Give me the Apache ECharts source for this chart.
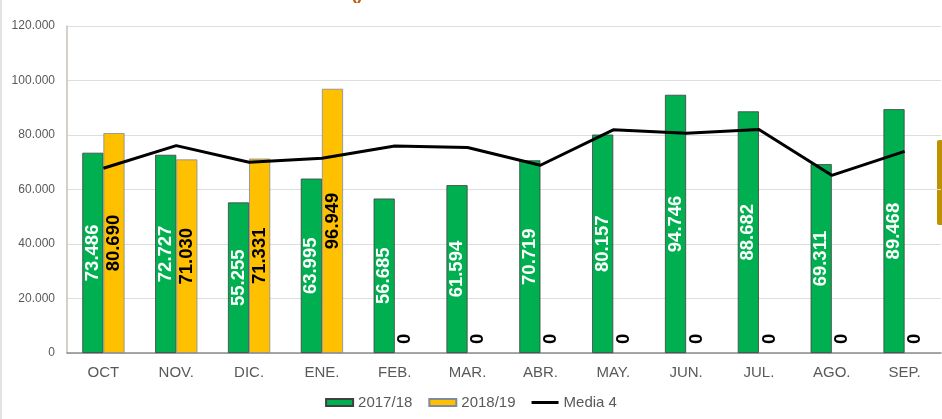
<!DOCTYPE html>
<html>
<head>
<meta charset="utf-8">
<script src="https://cdn.jsdelivr.net/npm/echarts@6/dist/echarts.min.js"></script>
<style>
  html, body { margin: 0; padding: 0; background: #fff; }
  #chart { width: 942px; height: 419px; }
</style>
</head>
<body>
<div id="chart"></div>
<script>
const months = ["OCT", "NOV.", "DIC.", "ENE.", "FEB.", "MAR.", "ABR.", "MAY.", "JUN.", "JUL.", "AGO.", "SEP."];
const season1718 = [73486, 72727, 55255, 63995, 56685, 61594, 70719, 80157, 94746, 88682, 69311, 89468];
const season1819 = [80690, 71030, 71331, 96949, 0, 0, 0, 0, 0, 0, 0, 0];
const media4 = [67800, 76100, 70000, 71500, 76000, 75400, 68900, 81900, 80600, 82000, 65200, 74000];
const yTicks = [0, 20000, 40000, 60000, 80000, 100000, 120000];

// 73486 -> "73.486"
function fmt(v) {
  return String(v).replace(/\B(?=(\d{3})+(?!\d))/g, ".");
}

let mychart = echarts.init(document.getElementById("chart"));

const labelFont = { fontFamily: "Liberation Sans", fontWeight: "bold", fontSize: 18.5 };

mychart.setOption({
  animation: false,
  textStyle: { fontFamily: "Liberation Sans" },
  grid: {
    left: 67,
    right: 1,
    top: 26,
    bottom: 66
  },
  legend: {
    bottom: 4,
    left: "center",
    itemWidth: 27,
    itemHeight: 7,
    itemGap: 16,
    textStyle: { color: "#595959", fontSize: 15 },
    data: [
      { name: "2017/18", icon: "rect" },
      { name: "2018/19", icon: "rect" },
      { name: "Media 4", icon: "path://M0,0H27V3H0Z" }
    ]
  },
  xAxis: {
    type: "category",
    data: months,
    axisTick: { show: false },
    axisLine: { lineStyle: { color: "#8c8c8c", width: 1.5 } },
    axisLabel: { color: "#595959", fontSize: 15, margin: 12 }
  },
  yAxis: {
    type: "value",
    min: yTicks[0],
    max: yTicks[yTicks.length - 1],
    interval: yTicks[1] - yTicks[0],
    axisLine: { show: true, lineStyle: { color: "#c9c0b8", width: 1.5 } },
    axisTick: { show: false },
    splitLine: { lineStyle: { color: "#dedede" } },
    axisLabel: {
      color: "#595959",
      fontSize: 12,
      margin: 12,
      formatter: fmt
    }
  },
  series: [
    {
      name: "2017/18",
      type: "bar",
      data: season1718,
      barWidth: "29%",
      barGap: "0%",
      itemStyle: { color: "#00b050", borderColor: "#3f3f3f", borderWidth: 0.8 },
      label: {
        show: true,
        position: "inside",
        rotate: 90,
        color: "#fff",
        ...labelFont,
        formatter: (p) => fmt(p.value)
      }
    },
    {
      name: "2018/19",
      type: "bar",
      data: season1819.map((v) =>
        v === 0
          ? {
              value: v,
              itemStyle: { borderWidth: 0 },
              label: { position: "top", rotate: 90, align: "left", verticalAlign: "middle", distance: 9 }
            }
          : v
      ),
      barWidth: "29%",
      itemStyle: { color: "#ffc000", borderColor: "#7f8a9c", borderWidth: 0.8 },
      label: {
        show: true,
        position: "inside",
        rotate: 90,
        color: "#000",
        ...labelFont,
        formatter: (p) => fmt(p.value)
      }
    },
    {
      name: "Media 4",
      type: "line",
      data: media4,
      symbol: "none",
      z: 5,
      lineStyle: { color: "#000", width: 3 },
      itemStyle: { color: "#000" }
    }
  ],
  graphic: [
    {
      type: "line",
      shape: { x1: 1, y1: 0, x2: 1, y2: 419 },
      style: { stroke: "#d9d9d9", lineWidth: 1.5 }
    },
    {
      type: "rect",
      shape: { x: 937, y: 140, width: 6, height: 85, r: 2 },
      style: { fill: "#bf9000" }
    },
    {
      type: "text",
      left: 351,
      top: -15,
      style: { text: "()", fill: "#c55a11", font: "bold 18px Liberation Sans" }
    }
  ]
});
</script>
</body>
</html>
